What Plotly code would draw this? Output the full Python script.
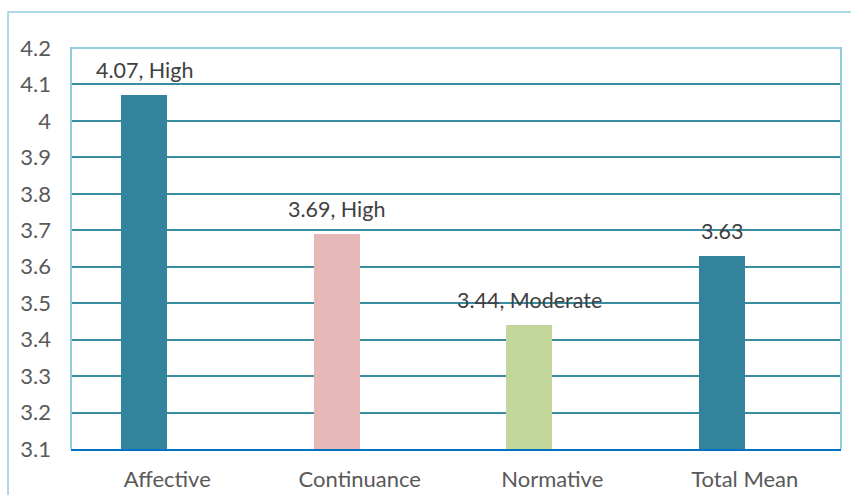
import plotly.graph_objects as go

categories = ["Affective", "Continuance", "Normative", "Total Mean"]
means = [4.07, 3.69, 3.44, 3.63]
levels = ["High", "High", "Moderate", ""]
bar_colors = ["#31849B", "#E6B8B7", "#C4D79B", "#31849B"]
y_ticks = [3.1, 3.2, 3.3, 3.4, 3.5, 3.6, 3.7, 3.8, 3.9, 4.0, 4.1, 4.2]

labels = [f"{m:.2f}, {lv}" if lv else f"{m:.2f}" for m, lv in zip(means, levels)]

FONT = "Lato, Open Sans, sans-serif"

fig = go.Figure()
fig.add_trace(go.Bar(
    x=categories,
    y=means,
    base=0,
    marker=dict(color=bar_colors, line=dict(width=0)),
    width=0.24,
    offset=-0.24,
    hoverinfo="skip",
))

# value labels above each bar
for cat, m, txt in zip(categories, means, labels):
    fig.add_annotation(
        x=cat, y=m, text=txt, showarrow=False,
        xanchor="center", yanchor="bottom",
        xshift=-23, yshift=10,
        font=dict(family=FONT, size=21.5, color="#404040"),
    )

# outer chart frame
fig.add_shape(type="rect", xref="paper", yref="paper",
              x0=-0.0818, x1=1.2, y0=-0.3, y1=1.0898,
              line=dict(color="#92CDDC", width=1.5), layer="below")
# plot-area frame (top, left, right)
fig.add_shape(type="path", xref="paper", yref="paper",
              path="M 0 0 L 0 1 L 1 1 L 1 0",
              line=dict(color="#92CDDC", width=2), layer="above")

fig.update_layout(
    width=851, height=495,
    margin=dict(l=71, r=10, t=48, b=46),
    paper_bgcolor="white", plot_bgcolor="white",
    showlegend=False,
    bargap=0,
    font=dict(family=FONT, size=22, color="#595959"),
)
fig.update_xaxes(
    type="category",
    automargin=False,
    showgrid=False,
    showline=True, linecolor="#0070C0", linewidth=2,
    ticks="", tickfont=dict(size=22, color="#595959"),
    ticklabelstandoff=10,
)
fig.update_yaxes(
    range=[3.1, 4.2],
    automargin=False,
    tickvals=y_ticks,
    ticktext=[f"{v:g}" for v in y_ticks],
    showgrid=True, gridcolor="#3A8CA0", gridwidth=2,
    zeroline=False, showline=False,
    ticks="", tickfont=dict(size=22, color="#595959"),
    ticklabelstandoff=19,
)

fig.write_html("out.html")
